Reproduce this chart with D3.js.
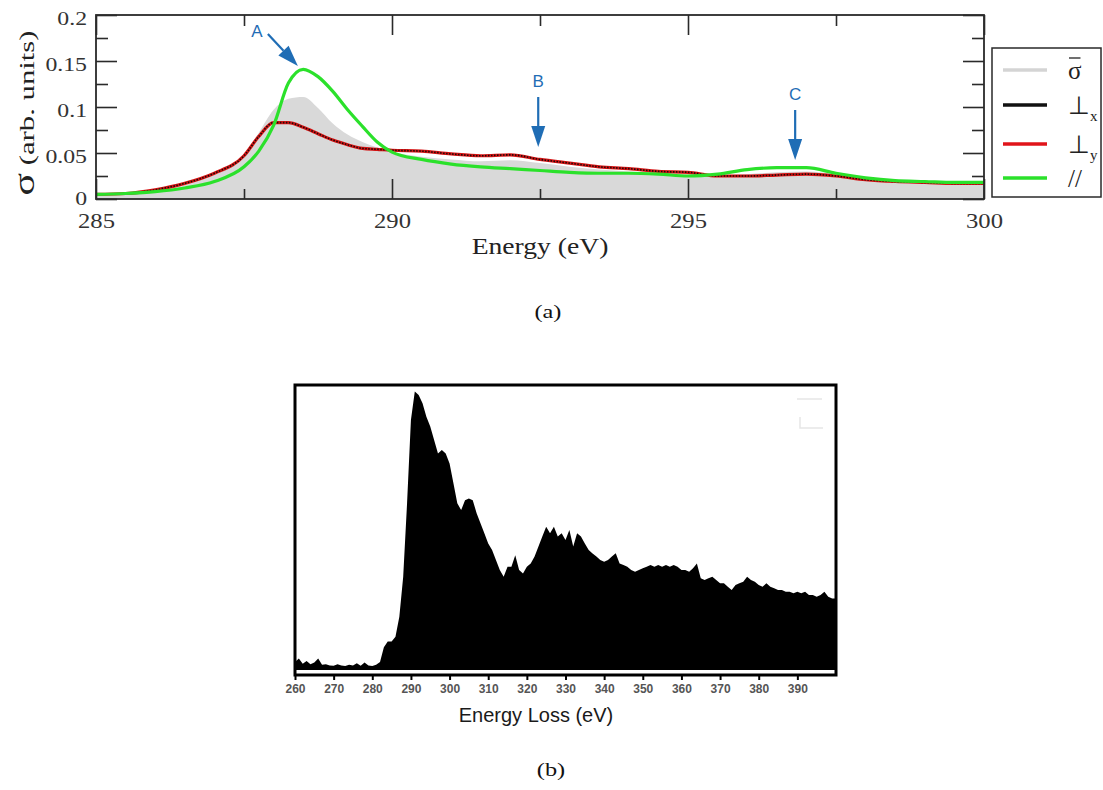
<!DOCTYPE html>
<html>
<head>
<meta charset="utf-8">
<script src="https://cdn.jsdelivr.net/npm/d3@7"></script>
<style>
  body { margin: 0; background: #fff; }
  svg { display: block; }
</style>
</head>
<body>
<div id="chart"></div>
<script>
// ---- panel (a) data ----
var energyA = [285, 285.5, 286, 286.5, 287, 287.5, 287.75, 288, 288.25, 288.5, 288.75, 289, 289.25, 289.5, 289.75,
               290, 290.5, 291, 291.5, 292, 292.5, 293, 293.5, 294, 294.5, 295, 295.5, 296, 296.5, 297, 297.5,
               298, 298.5, 299, 299.5, 300];
var sigmaBar = [0.004, 0.005, 0.008, 0.015, 0.026, 0.047, 0.072, 0.097, 0.109, 0.111, 0.099, 0.082, 0.07, 0.062, 0.056,
                0.051, 0.046, 0.043, 0.041, 0.042, 0.039, 0.035, 0.032, 0.030, 0.029, 0.027, 0.026, 0.027, 0.029, 0.030, 0.027,
                0.022, 0.020, 0.018, 0.017, 0.016];
var perpX = [0.005, 0.006, 0.010, 0.017, 0.028, 0.047, 0.068, 0.083, 0.083, 0.078, 0.071, 0.064, 0.059, 0.055, 0.054,
             0.053, 0.052, 0.049, 0.047, 0.048, 0.043, 0.039, 0.035, 0.033, 0.030, 0.029, 0.025, 0.025, 0.026, 0.027, 0.025,
             0.021, 0.019, 0.018, 0.017, 0.017];
var perpY = [0.005, 0.006, 0.010, 0.017, 0.028, 0.047, 0.068, 0.083, 0.083, 0.078, 0.071, 0.064, 0.059, 0.055, 0.054,
             0.053, 0.052, 0.049, 0.047, 0.048, 0.043, 0.039, 0.035, 0.033, 0.030, 0.029, 0.025, 0.025, 0.026, 0.027, 0.025,
             0.021, 0.019, 0.018, 0.017, 0.017];
var parallel = [0.005, 0.006, 0.008, 0.012, 0.019, 0.035, 0.052, 0.080, 0.126, 0.141, 0.133, 0.117, 0.097, 0.079, 0.062,
                0.051, 0.043, 0.038, 0.035, 0.033, 0.031, 0.029, 0.028, 0.028, 0.027, 0.025, 0.027, 0.032, 0.034, 0.034, 0.028,
                0.023, 0.020, 0.019, 0.018, 0.018];
var xTicksA = [285, 290, 295, 300];
var xMinorA = [287.5, 292.5, 297.5];
var yTicksA = [0, 0.05, 0.1, 0.15, 0.2];
var yMinorA = [0.025, 0.075, 0.125, 0.175];
var peakLabels = ["A", "B", "C"];
var peakEnergy = [288.41, 292.47, 296.81];
var peakValue = [0.1446, 0.0565, 0.0424];
var legendNames = ["\u03c3", "\u22a5", "\u22a5", "//"];
var legendSubs = ["", "x", "y", ""];

// ---- panel (b) data ----
var lossStart = 260;
var lossCounts = [
  0.028, 0.040, 0.022, 0.032, 0.020, 0.026, 0.040, 0.018, 0.020, 0.016, // 260-269
  0.015, 0.020, 0.016, 0.014, 0.018, 0.016, 0.024, 0.015, 0.026, 0.016, // 270-279
  0.014, 0.018, 0.028, 0.080, 0.100, 0.100, 0.117, 0.187, 0.327, 0.585, // 280-289
  0.877, 0.977, 0.965, 0.936, 0.889, 0.854, 0.807, 0.760, 0.772, 0.760, // 290-299
  0.725, 0.655, 0.585, 0.561, 0.596, 0.602, 0.596, 0.550, 0.515, 0.480, // 300-309
  0.444, 0.421, 0.386, 0.351, 0.327, 0.362, 0.362, 0.403, 0.351, 0.339, // 310-319
  0.362, 0.374, 0.398, 0.433, 0.468, 0.503, 0.480, 0.503, 0.468, 0.480, // 320-329
  0.456, 0.491, 0.433, 0.480, 0.468, 0.444, 0.421, 0.409, 0.398, 0.386, // 330-339
  0.380, 0.386, 0.398, 0.410, 0.374, 0.368, 0.362, 0.351, 0.345, 0.351, // 340-349
  0.357, 0.362, 0.368, 0.362, 0.368, 0.362, 0.368, 0.362, 0.368, 0.362, // 350-359
  0.351, 0.351, 0.345, 0.357, 0.374, 0.322, 0.316, 0.322, 0.327, 0.316, // 360-369
  0.304, 0.304, 0.292, 0.281, 0.298, 0.304, 0.310, 0.327, 0.316, 0.310, // 370-379
  0.298, 0.292, 0.304, 0.292, 0.287, 0.281, 0.281, 0.275, 0.275, 0.269, // 380-389
  0.275, 0.269, 0.275, 0.263, 0.263, 0.257, 0.263, 0.275, 0.257, 0.251, // 390-399
  0.251                                                                 // 400
];
var xTicksB = [260, 270, 280, 290, 300, 310, 320, 330, 340, 350, 360, 370, 380, 390];

var w = 1103, h = 790;
var serif = "'Liberation Serif', 'Times New Roman', serif";
var sans = "'Liberation Sans', Arial, sans-serif";
var blue = "#1f6db5";

var svg = d3.select("#chart").append("svg").attr("width", w).attr("height", h);

// stretch text horizontally (the scanned figure is wider than normal type)
function stretch(sel, k) {
  sel.each(function() {
    var len = this.getComputedTextLength();
    d3.select(this).attr("textLength", len * k).attr("lengthAdjust", "spacingAndGlyphs");
  });
}

// ================= panel (a) =================
var xA = d3.scaleLinear().domain([285, 300]).range([96, 984]);
var yA = d3.scaleLinear().domain([0, 0.2]).range([199, 15]);

var rowsA = energyA.map(function(e, i) {
  return {e: e, bar: sigmaBar[i], px: perpX[i], py: perpY[i], par: parallel[i]};
});

svg.append("clipPath").attr("id", "clipA")
  .append("rect").attr("x", 96).attr("y", 15).attr("width", 888).attr("height", 184);

var gA = svg.append("g").attr("clip-path", "url(#clipA)");

gA.append("path")
  .datum(rowsA)
  .attr("fill", "#d9d9d9")
  .attr("d", d3.area().curve(d3.curveMonotoneX)
    .x(function(d) { return xA(d.e); })
    .y0(yA(0))
    .y1(function(d) { return yA(d.bar); }));

function lineA(key) {
  return d3.line().curve(d3.curveMonotoneX)
    .x(function(d) { return xA(d.e); })
    .y(function(d) { return yA(d[key]); });
}

gA.append("path").datum(rowsA).attr("fill", "none")
  .attr("stroke", "#d41414").attr("stroke-width", 3.2).attr("d", lineA("py"));
gA.append("path").datum(rowsA).attr("fill", "none")
  .attr("stroke", "#1a0a0a").attr("stroke-width", 1.6).attr("stroke-dasharray", "1.5,1.5")
  .attr("d", lineA("px"));
gA.append("path").datum(rowsA).attr("fill", "none")
  .attr("stroke", "#2be12b").attr("stroke-width", 3.2).attr("d", lineA("par"));

// frame
svg.append("rect").attr("x", 96).attr("y", 15).attr("width", 888).attr("height", 184)
  .attr("fill", "none").attr("stroke", "#2a2a2a").attr("stroke-width", 1.8);

// axes, ticks pointing inward on all four sides
function styleAxis(g) {
  g.select(".domain").remove();
  g.selectAll(".tick line").attr("stroke", "#2a2a2a").attr("stroke-width", 1.6);
}

var axL = svg.append("g").attr("transform", "translate(96,0)")
  .call(d3.axisLeft(yA).tickValues(yTicksA).tickSizeInner(-21).tickSizeOuter(0).tickPadding(9)
    .tickFormat(function(d) { return d === 0 ? "0" : String(d); }));
styleAxis(axL);
axL.selectAll("text").attr("font-family", serif).attr("font-size", 18).attr("fill", "#333")
  .attr("dy", function(d) { return d === 0 ? "0.3em" : "0.55em"; });
stretch(axL.selectAll("text"), 1.32);

svg.append("g").attr("transform", "translate(96,0)")
  .call(d3.axisLeft(yA).tickValues(yMinorA).tickSizeInner(-12).tickSizeOuter(0).tickFormat(""))
  .call(styleAxis);
svg.append("g").attr("transform", "translate(984,0)")
  .call(d3.axisRight(yA).tickValues(yTicksA).tickSizeInner(-21).tickSizeOuter(0).tickFormat(""))
  .call(styleAxis);
svg.append("g").attr("transform", "translate(984,0)")
  .call(d3.axisRight(yA).tickValues(yMinorA).tickSizeInner(-12).tickSizeOuter(0).tickFormat(""))
  .call(styleAxis);

var axB = svg.append("g").attr("transform", "translate(0,199)")
  .call(d3.axisBottom(xA).tickValues(xTicksA).tickSizeInner(-20).tickSizeOuter(0).tickPadding(13));
styleAxis(axB);
axB.selectAll("text").attr("font-family", serif).attr("font-size", 22).attr("fill", "#333");
stretch(axB.selectAll("text"), 1.12);

svg.append("g").attr("transform", "translate(0,199)")
  .call(d3.axisBottom(xA).tickValues(xMinorA).tickSizeInner(-10).tickSizeOuter(0).tickFormat(""))
  .call(styleAxis);
svg.append("g").attr("transform", "translate(0,15)")
  .call(d3.axisTop(xA).tickValues(xTicksA).tickSizeInner(-20).tickSizeOuter(0).tickFormat(""))
  .call(styleAxis);
svg.append("g").attr("transform", "translate(0,15)")
  .call(d3.axisTop(xA).tickValues(xMinorA).tickSizeInner(-11).tickSizeOuter(0).tickFormat(""))
  .call(styleAxis);

// axis titles
var xt = svg.append("text").attr("x", 540).attr("y", 254).attr("text-anchor", "middle")
  .attr("font-family", serif).attr("font-size", 23).attr("fill", "#222").text("Energy (eV)");
stretch(xt, 1.2);

var yt = svg.append("text").attr("transform", "translate(34,113) rotate(-90)")
  .attr("text-anchor", "middle").attr("font-family", serif).attr("fill", "#222");
yt.append("tspan").attr("font-size", 30).text("\u03c3");
yt.append("tspan").attr("font-size", 22).text("  (arb. units)");
yt.attr("textLength", 165).attr("lengthAdjust", "spacingAndGlyphs");

// peak arrows
peakLabels.forEach(function(lab, i) {
  var tx = xA(peakEnergy[i]), ty = yA(peakValue[i]);
  var dx = i === 0 ? -30 : 0, dy = i === 0 ? -32 : -50;
  var len = Math.sqrt(dx * dx + dy * dy);
  var ux = dx / len, uy = dy / len;           // unit vector tip -> tail
  var head = 21, half = 7;
  var bx = tx + ux * head, by = ty + uy * head;
  svg.append("line").attr("x1", tx + dx).attr("y1", ty + dy).attr("x2", bx).attr("y2", by)
    .attr("stroke", blue).attr("stroke-width", 2.2);
  svg.append("path")
    .attr("d", "M" + tx + "," + ty + "L" + (bx - uy * half) + "," + (by + ux * half) +
               "L" + (bx + uy * half) + "," + (by - ux * half) + "Z")
    .attr("fill", blue);
  var lx = i === 0 ? tx + dx - 11 : tx + dx, ly = i === 0 ? ty + dy + 3 : ty + dy - 10;
  svg.append("text").attr("x", lx).attr("y", ly).attr("text-anchor", "middle")
    .attr("font-family", sans).attr("font-size", 17).attr("fill", blue).text(lab);
});

// legend
svg.append("rect").attr("x", 992).attr("y", 48).attr("width", 109).attr("height", 149)
  .attr("fill", "#fff").attr("stroke", "#2a2a2a").attr("stroke-width", 1.5);
var legColors = ["#d4d4d4", "#111", "#e0141a", "#2be12b"];
var legY = [70, 105, 144, 178];
legendNames.forEach(function(name, i) {
  svg.append("line").attr("x1", 1003).attr("x2", 1047).attr("y1", legY[i]).attr("y2", legY[i])
    .attr("stroke", legColors[i]).attr("stroke-width", 3.5);
  var t = svg.append("text").attr("x", 1068).attr("y", legY[i] + 9)
    .attr("font-family", serif).attr("font-size", 25).attr("fill", "#222");
  t.append("tspan").text(name);
  if (legendSubs[i]) {
    t.append("tspan").attr("font-size", 15).attr("dy", 7).text(legendSubs[i]);
  }
  if (i === 0) {
    // bar over the sigma (mean cross-section)
    var bw = t.node().getComputedTextLength();
    svg.append("line").attr("x1", 1069).attr("x2", 1068 + bw - 1)
      .attr("y1", legY[i] - 12).attr("y2", legY[i] - 12)
      .attr("stroke", "#222").attr("stroke-width", 1.3);
  }
});

var capA = svg.append("text").attr("x", 548).attr("y", 318).attr("text-anchor", "middle")
  .attr("font-family", serif).attr("font-size", 18).attr("fill", "#111").text("(a)");
stretch(capA, 1.35);

// ================= panel (b) =================
var xB = d3.scaleLinear().domain([260, 400]).range([295, 836]);
var yB = d3.scaleLinear().domain([0, 1]).range([670, 385]);

var rowsB = lossCounts.map(function(v, i) { return {e: lossStart + i, v: v}; });

svg.append("path").datum(rowsB)
  .attr("fill", "#000")
  .attr("d", d3.area().curve(d3.curveLinear)
    .x(function(d) { return xB(d.e); })
    .y0(yB(0))
    .y1(function(d) { return yB(d.v); }));

// faint leftover legend marks in the corner of the scan
svg.append("path").attr("d", "M797,399H822M800,417V428H823")
  .attr("fill", "none").attr("stroke", "#e6e6e6").attr("stroke-width", 1.5);

svg.append("rect").attr("x", 295).attr("y", 385).attr("width", 541).attr("height", 290)
  .attr("fill", "none").attr("stroke", "#000").attr("stroke-width", 3);

var axLoss = svg.append("g").attr("transform", "translate(0,676)")
  .call(d3.axisBottom(xB).tickValues(xTicksB).tickSizeInner(4).tickSizeOuter(0).tickPadding(4));
axLoss.select(".domain").remove();
axLoss.selectAll(".tick line").attr("stroke", "#000").attr("stroke-width", 2);
axLoss.selectAll("text").attr("font-family", sans).attr("font-size", 12).attr("font-weight", "bold")
  .attr("fill", "#555");

svg.append("text").attr("x", 536).attr("y", 722).attr("text-anchor", "middle")
  .attr("font-family", sans).attr("font-size", 20).attr("fill", "#1a1a1a").text("Energy Loss (eV)");

var capB = svg.append("text").attr("x", 551).attr("y", 776).attr("text-anchor", "middle")
  .attr("font-family", serif).attr("font-size", 18).attr("fill", "#111").text("(b)");
stretch(capB, 1.35);
</script>
</body>
</html>
